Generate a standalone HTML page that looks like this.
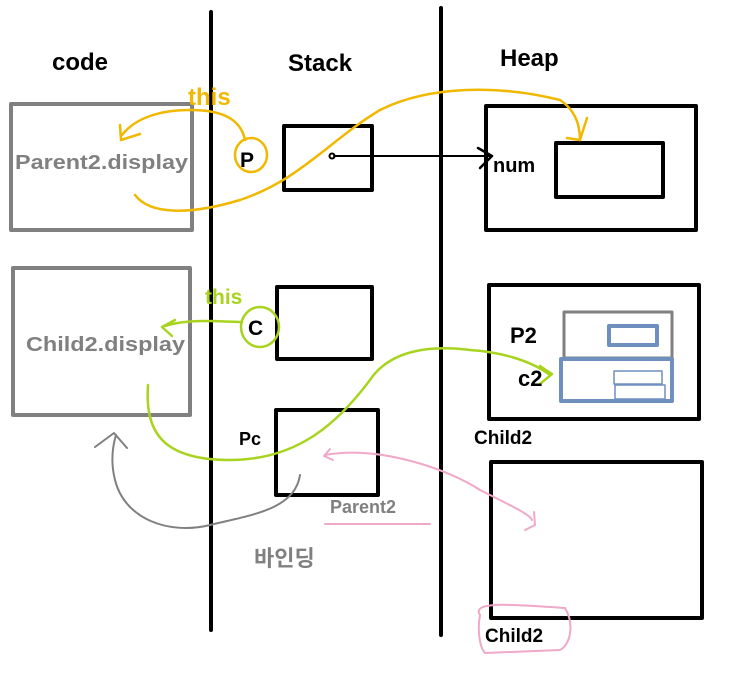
<!DOCTYPE html>
<html><head><meta charset="utf-8"><style>
html,body{margin:0;padding:0;background:#fff;width:739px;height:677px;overflow:hidden}
svg{display:block}
text{font-family:"Liberation Sans","Noto Sans CJK KR",sans-serif;font-weight:bold}
</style></head><body>
<svg width="739" height="677" viewBox="0 0 739 677" xmlns="http://www.w3.org/2000/svg">
<g fill="none" stroke-linecap="round" stroke-linejoin="round">
<line x1="211" y1="12" x2="211" y2="630" stroke="#000" stroke-width="4"/>
<line x1="441" y1="8" x2="441" y2="635" stroke="#000" stroke-width="4"/>
<rect x="11" y="104" width="181" height="126" stroke="#808080" stroke-width="4"/>
<rect x="13" y="268" width="177" height="147" stroke="#808080" stroke-width="4"/>
<rect x="284" y="126" width="88" height="64" stroke="#000" stroke-width="4"/>
<rect x="277" y="287" width="95" height="72" stroke="#000" stroke-width="4"/>
<rect x="276" y="410" width="102" height="85" stroke="#000" stroke-width="4"/>
<rect x="486" y="106" width="210" height="124" stroke="#000" stroke-width="4"/>
<rect x="556" y="143" width="107" height="54" stroke="#000" stroke-width="4"/>
<rect x="489" y="285" width="210" height="134" stroke="#000" stroke-width="4"/>
<rect x="564" y="312" width="108" height="46" stroke="#808080" stroke-width="3"/>
<rect x="609" y="326" width="48" height="19" stroke="#6f8fbf" stroke-width="4"/>
<rect x="561" y="359" width="111" height="42" stroke="#6f8fbf" stroke-width="4"/>
<rect x="614" y="371" width="48" height="13" stroke="#6f8fbf" stroke-width="1.5"/>
<rect x="615" y="385" width="50" height="14" stroke="#6f8fbf" stroke-width="1.5"/>
<rect x="491" y="462" width="211" height="156" stroke="#000" stroke-width="4"/>
<circle cx="332" cy="156" r="2.5" stroke="#000" stroke-width="2"/>
<line x1="334" y1="156" x2="492" y2="156" stroke="#000" stroke-width="2"/>
<path d="M478 148 L492 156 L480 168" stroke="#000" stroke-width="2.5"/>
<g stroke="#f0b800" stroke-width="2.5">
<path d="M245 140 C240 115 215 110 190 110 C160 110 135 118 122 135"/>
<path d="M120 125 L121 140 L140 134"/>
<ellipse cx="251" cy="155" rx="16" ry="17"/>
<path d="M135 195 C150 215 190 215 240 200 C300 180 330 140 380 110 C430 85 500 85 560 100 C575 110 580 125 580 140"/>
<path d="M567 138 L580 140 L587 118"/>
</g>
<g stroke="#a8d420" stroke-width="2.5">
<path d="M242 322 C225 322 190 318 165 326"/>
<path d="M175 320 L162 327 L172 336"/>
<ellipse cx="260" cy="327" rx="19" ry="20"/>
<path d="M148 385 C145 430 160 460 230 460 C300 460 340 420 370 380 C390 350 430 345 470 350 C500 352 530 360 550 375"/>
<path d="M540 366 L552 374 L540 384"/>
</g>
<g stroke="#808080" stroke-width="2">
<path d="M300 475 C295 510 250 515 210 525 C170 535 125 520 115 480 C110 460 113 445 116 435"/>
<path d="M95 447 L114 433 L127 448"/>
</g>
<g stroke="#f0a8c8" stroke-width="2">
<path d="M325 455 C380 445 450 470 480 490 C520 510 530 515 532 520"/>
<path d="M330 449 L324 456 L333 460"/>
<path d="M525 530 L535 525 L534 512"/>
<path d="M325 524 L430 524"/>
<path d="M480 615 C470 600 520 605 565 608 C575 625 570 645 560 650 L485 653 C478 645 478 625 480 615"/>
</g>
</g>
<text x="52" y="70" font-size="24" fill="#000">code</text>
<text x="288" y="71" font-size="24" fill="#000">Stack</text>
<text x="500" y="66" font-size="24" fill="#000">Heap</text>
<text x="15" y="169" font-size="20" fill="#808080" textLength="173" lengthAdjust="spacingAndGlyphs">Parent2.display</text>
<text x="26" y="351" font-size="20" fill="#808080" textLength="159" lengthAdjust="spacingAndGlyphs">Child2.display</text>
<text x="240" y="167" font-size="21" fill="#000">P</text>
<text x="248" y="335" font-size="21" fill="#000">C</text>
<text x="239" y="445" font-size="18" fill="#000">Pc</text>
<text x="188" y="105" font-size="24" fill="#f0b800" font-weight="normal">this</text>
<text x="205" y="304" font-size="21" fill="#a8d420" font-weight="normal">this</text>
<text x="493" y="172" font-size="20" fill="#000" font-weight="normal">num</text>
<text x="510" y="343" font-size="22" fill="#000" font-weight="normal">P2</text>
<text x="518" y="386" font-size="22" fill="#000" font-weight="normal">c2</text>
<text x="474" y="444" font-size="19" fill="#000">Child2</text>
<text x="330" y="513" font-size="18" fill="#808080">Parent2</text>
<text x="254" y="566" font-size="22" fill="#808080" font-weight="normal">바인딩</text>
<text x="485" y="642" font-size="19" fill="#000">Child2</text>
</svg>
</body></html>
